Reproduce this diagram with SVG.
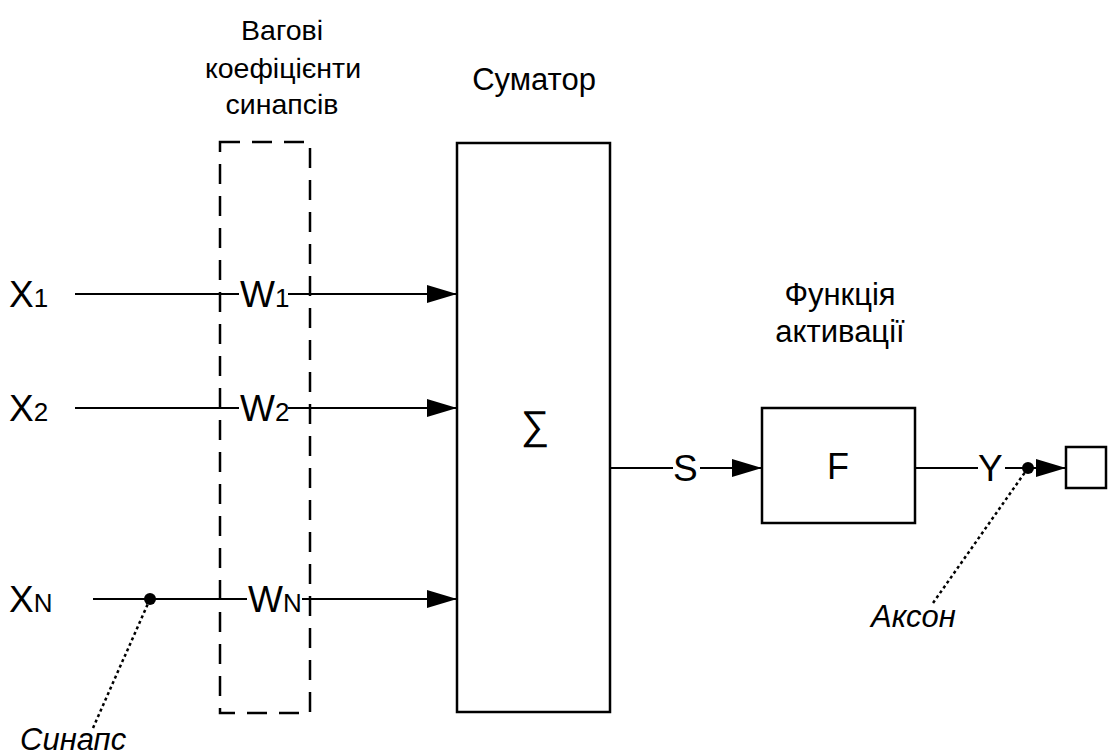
<svg xmlns="http://www.w3.org/2000/svg" width="1108" height="755" viewBox="0 0 1108 755">
<style>
.t{font-family:"Liberation Sans",Arial,sans-serif;font-size:30px;fill:#000}
.tr{font-family:"Liberation Sans",Arial,sans-serif;font-size:28.5px;fill:#000}
.big{font-family:"Liberation Sans",Arial,sans-serif;font-size:37px;fill:#000}
.sub{font-size:26px}
.it{font-family:"Liberation Sans",Arial,sans-serif;font-size:31px;font-style:italic;fill:#000}
.ln{stroke:#000;stroke-width:2.2;fill:none}
.box{stroke:#000;stroke-width:2.5;fill:#fff}
.dash{stroke:#000;stroke-width:2.5;fill:none;stroke-dasharray:20 12}
.dot{stroke:#000;stroke-width:2.5;fill:none;stroke-dasharray:3 3}
</style>
<defs>
<marker id="ah" viewBox="0 0 30 18" refX="30" refY="9" markerWidth="30" markerHeight="18" markerUnits="userSpaceOnUse" orient="auto">
<path d="M0,0 L30,9 L0,18 Z" fill="#000"/>
</marker>
</defs>
<g id="weights">
<rect class="dash" x="220" y="142" width="90" height="571"/>
<text class="tr" text-anchor="middle" x="282" y="40">Вагові</text>
<text class="tr" text-anchor="middle" x="283" y="78">коефіцієнти</text>
<text class="tr" text-anchor="middle" x="282" y="114">синапсів</text>
</g>
<g id="summator">
<rect class="box" x="457" y="143" width="153" height="569"/>
<text class="t" text-anchor="middle" x="534" y="90" style="font-size:31px">Суматор</text>
<text class="t" text-anchor="middle" x="535" y="439" style="font-size:40px">∑</text>
</g>
<g id="activation">
<rect class="box" x="762" y="408" width="153" height="115"/>
<text class="t" text-anchor="middle" x="840" y="305" style="font-size:31px">Функція</text>
<text class="t" text-anchor="middle" x="840" y="342" style="font-size:31px">активації</text>
<text class="big" text-anchor="middle" x="838" y="479" style="font-size:36px">F</text>
</g>
<g id="output">
<rect class="box" x="1066" y="447" width="40" height="41"/>
</g>
<g id="labels">
<text class="big" x="9" y="307">X<tspan class="sub">1</tspan></text>
<text class="big" x="9" y="421">X<tspan class="sub">2</tspan></text>
<text class="big" x="9" y="612">X<tspan class="sub">N</tspan></text>
<text class="big" x="240" y="307">W<tspan class="sub">1</tspan></text>
<text class="big" x="240" y="421">W<tspan class="sub">2</tspan></text>
<text class="big" x="248" y="612">W<tspan class="sub">N</tspan></text>
<text class="big" x="673" y="481">S</text>
<text class="big" x="978" y="481">Y</text>
<text class="it" x="20" y="750">Синапс</text>
<text class="it" x="871" y="627">Аксон</text>
</g>
<g id="connectors">
<line class="ln" x1="75" y1="294" x2="239" y2="294"/>
<line class="ln" x1="288" y1="294" x2="457" y2="294" marker-end="url(#ah)"/>
<line class="ln" x1="75" y1="408" x2="239" y2="408"/>
<line class="ln" x1="288" y1="408" x2="457" y2="408" marker-end="url(#ah)"/>
<line class="ln" x1="93" y1="599" x2="247" y2="599"/>
<line class="ln" x1="302" y1="599" x2="457" y2="599" marker-end="url(#ah)"/>
<line class="ln" x1="610" y1="468" x2="673" y2="468"/>
<line class="ln" x1="700" y1="468" x2="762" y2="468" marker-end="url(#ah)"/>
<line class="ln" x1="915" y1="468" x2="978" y2="468"/>
<line class="ln" x1="1005" y1="468" x2="1066" y2="468" marker-end="url(#ah)"/>
<circle cx="150" cy="599" r="6" fill="#000"/>
<circle cx="1028" cy="468" r="6" fill="#000"/>
<line class="dot" x1="150" y1="599" x2="93" y2="728"/>
<line class="dot" x1="1028" y1="468" x2="933" y2="603"/>
</g>
</svg>
